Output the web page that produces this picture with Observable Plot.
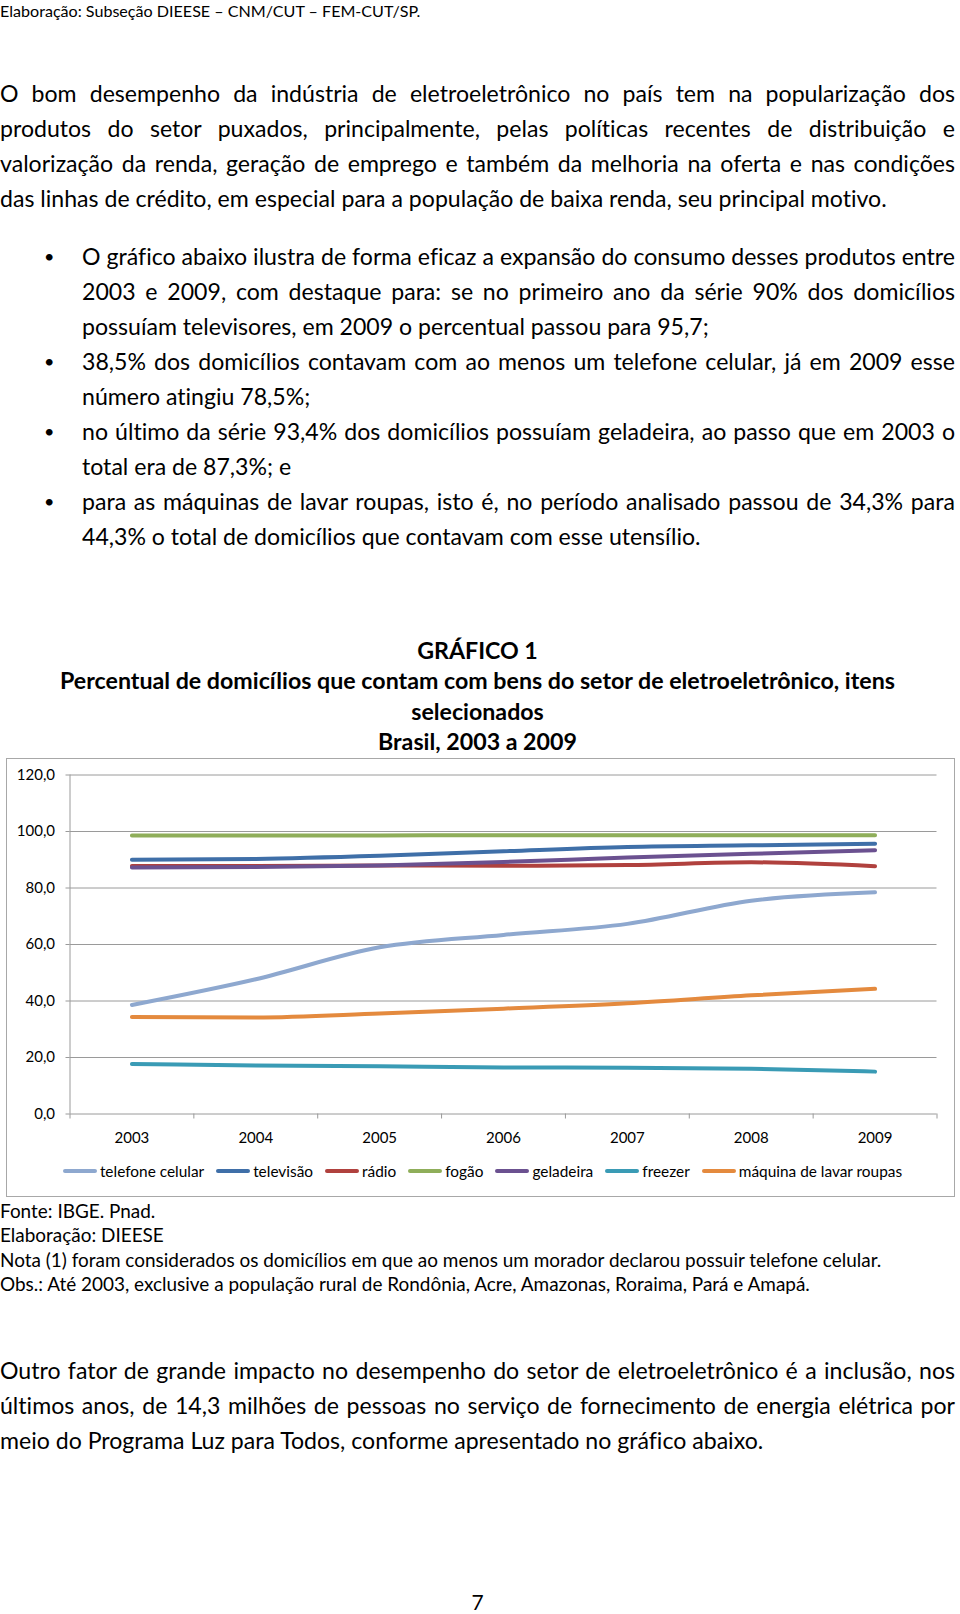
<!DOCTYPE html>
<html>
<head>
<meta charset="utf-8">
<script src="https://cdn.jsdelivr.net/npm/d3@7"></script>
<script src="https://cdn.jsdelivr.net/npm/@observablehq/plot@0.6"></script>
<style>
  html, body { margin: 0; padding: 0; background: #fff; }
  body { width: 960px; height: 1614px; position: relative; font-family: Lato, "Open Sans", sans-serif; color: #000; overflow: hidden; font-variant-ligatures: none; font-feature-settings: "liga" 0, "clig" 0; }
  .blk { position: absolute; left: 0; width: 955px; }
  .ln { white-space: nowrap; }
  .j { text-align: justify; text-align-last: justify; white-space: normal; }
  #header { top: 0; font-size: 16.1px; line-height: 21px; }
  .body { font-size: 23.1px; line-height: 35px; }
  .bul { position: absolute; left: 44px; font-size: 18px; }
  #title { top: 635px; font-weight: bold; font-size: 23.2px; line-height: 30.4px; text-align: center; }
  #frame { position: absolute; left: 6px; top: 758px; width: 949px; height: 439px; box-sizing: border-box; border: 1.5px solid #A8A8A8; }
  #legend { display: flex; justify-content: center; align-items: center; height: 32px; font-size: 15.4px; gap: 12px; padding-left: 4px; }
  .item { display: flex; align-items: center; }
  .sw { display: inline-block; width: 34px; height: 4px; border-radius: 2px; margin-right: 3px; }
  #notes { top: 1199px; font-size: 18.95px; line-height: 24.3px; }
  #pg { position: absolute; top: 1589px; left: 0; width: 955px; text-align: center; font-size: 21px; }
</style>
</head>
<body>
<div id="header" class="blk">Elaboração: Subseção DIEESE – CNM/CUT – FEM-CUT/SP.</div>

<div class="blk body" style="top:76px">
  <div class="ln j">O bom desempenho da indústria de eletroeletrônico no país tem na popularização dos</div>
  <div class="ln j">produtos do setor puxados, principalmente, pelas políticas recentes de distribuição e</div>
  <div class="ln j">valorização da renda, geração de emprego e também da melhoria na oferta e nas condições</div>
  <div class="ln">das linhas de crédito, em especial para a população de baixa renda, seu principal motivo.</div>
</div>

<div class="blk body" style="top:238.5px">
  <span class="bul" style="top:0px">•</span>
  <span class="bul" style="top:105px">•</span>
  <span class="bul" style="top:175px">•</span>
  <span class="bul" style="top:245px">•</span>
  <div style="margin-left:82px; width:873px">
    <div class="ln j">O gráfico abaixo ilustra de forma eficaz a expansão do consumo desses produtos entre</div>
    <div class="ln j">2003 e 2009, com destaque para: se no primeiro ano da série 90% dos domicílios</div>
    <div class="ln">possuíam televisores, em 2009 o percentual passou para 95,7;</div>
    <div class="ln j">38,5% dos domicílios contavam com ao menos um telefone celular, já em 2009 esse</div>
    <div class="ln">número atingiu 78,5%;</div>
    <div class="ln j">no último da série 93,4% dos domicílios possuíam geladeira, ao passo que em 2003 o</div>
    <div class="ln">total era de 87,3%; e</div>
    <div class="ln j">para as máquinas de lavar roupas, isto é, no período analisado passou de 34,3% para</div>
    <div class="ln">44,3% o total de domicílios que contavam com esse utensílio.</div>
  </div>
</div>

<div id="title" class="blk">
  <div>GRÁFICO 1</div>
  <div>Percentual de domicílios que contam com bens do setor de eletroeletrônico, itens</div>
  <div>selecionados</div>
  <div>Brasil, 2003 a 2009</div>
</div>

<div id="frame">
  <div id="chart"></div>
  <div id="legend"></div>
</div>

<div id="notes" class="blk">
  <div>Fonte: IBGE. Pnad.</div>
  <div>Elaboração: DIEESE</div>
  <div>Nota (1) foram considerados os domicílios em que ao menos um morador declarou possuir telefone celular.</div>
  <div>Obs.: Até 2003, exclusive a população rural de Rondônia, Acre, Amazonas, Roraima, Pará e Amapá.</div>
</div>

<div class="blk body" style="top:1352.5px">
  <div class="ln j">Outro fator de grande impacto no desempenho do setor de eletroeletrônico é a inclusão, nos</div>
  <div class="ln j">últimos anos, de 14,3 milhões de pessoas no serviço de fornecimento de energia elétrica por</div>
  <div class="ln">meio do Programa Luz para Todos, conforme apresentado no gráfico abaixo.</div>
</div>

<div id="pg">7</div>

<script>
// ---- Data ----
const years = [2003, 2004, 2005, 2006, 2007, 2008, 2009];
const seriesNames = ["telefone celular", "televisão", "rádio", "fogão", "geladeira", "freezer", "máquina de lavar roupas"];
const seriesColors = ["#8EA8CF", "#3F6FA8", "#B0413E", "#8FAE5A", "#6B5190", "#3A9BB5", "#E48A3E"];
const telefoneCelular = [38.6, 47.7, 59.0, 63.4, 67.3, 75.5, 78.5];
const televisao = [90.0, 90.3, 91.4, 93.0, 94.5, 95.1, 95.7];
const radio = [87.8, 87.8, 88.0, 87.9, 88.1, 89.1, 87.7];
const fogao = [98.6, 98.6, 98.6, 98.7, 98.7, 98.7, 98.7];
const geladeira = [87.3, 87.4, 88.0, 89.2, 90.8, 92.1, 93.4];
const freezer = [17.7, 17.2, 16.9, 16.5, 16.4, 16.0, 15.0];
const maquinaLavar = [34.3, 34.2, 35.6, 37.3, 39.2, 42.0, 44.3];
const yTicks = [0, 20, 40, 60, 80, 100, 120];

const seriesValues = [telefoneCelular, televisao, radio, fogao, geladeira, freezer, maquinaLavar];
const table = seriesNames.flatMap((s, i) => years.map((yr, j) => ({series: s, year: yr, value: seriesValues[i][j]})));
const bounds = years.map(y => y - 0.5).concat([years[years.length - 1] + 0.5]);

const fmt = d => d.toFixed(1).replace(".", ",");

const chart = Plot.plot({
  width: 946,
  height: 396,
  marginLeft: 62.5,
  marginRight: 16.5,
  marginTop: 15.5,
  marginBottom: 41.5,
  style: {fontFamily: "Lato, sans-serif", fontSize: "15px", color: "#000", background: "transparent"},
  x: {type: "linear", domain: [bounds[0], bounds[bounds.length - 1]], label: null},
  y: {domain: [0, 120], label: null},
  color: {domain: seriesNames, range: seriesColors},
  marks: [
    Plot.gridY(yTicks.slice(1), {stroke: "#9A9A9A", strokeOpacity: 1, strokeWidth: 1}),
    Plot.ruleX([bounds[0]], {stroke: "#9A9A9A", strokeWidth: 1}),
    Plot.ruleY([0], {stroke: "#9A9A9A", strokeWidth: 1}),
    Plot.axisY({ticks: yTicks, tickFormat: fmt, tickSize: 4, tickPadding: 11, stroke: "#9A9A9A", fill: "#000", fontSize: 15}),
    Plot.axisX({ticks: bounds, tickFormat: () => "", tickSize: 5, stroke: "#9A9A9A"}),
    Plot.axisX({ticks: years, tickFormat: d => String(d), tickSize: 0, tickPadding: 18, fill: "#000", fontSize: 15}),
    Plot.line(table, {x: "year", y: "value", z: "series", stroke: "series", strokeWidth: 4, curve: "monotone-x", strokeLinecap: "round", strokeLinejoin: "round"})
  ]
});
document.getElementById("chart").appendChild(chart);

const legend = document.getElementById("legend");
seriesNames.forEach((s, i) => {
  const it = document.createElement("div");
  it.className = "item";
  const sw = document.createElement("span");
  sw.className = "sw";
  sw.style.background = seriesColors[i];
  it.appendChild(sw);
  const t = document.createElement("span");
  t.textContent = s;
  it.appendChild(t);
  legend.appendChild(it);
});
</script>
</body>
</html>
